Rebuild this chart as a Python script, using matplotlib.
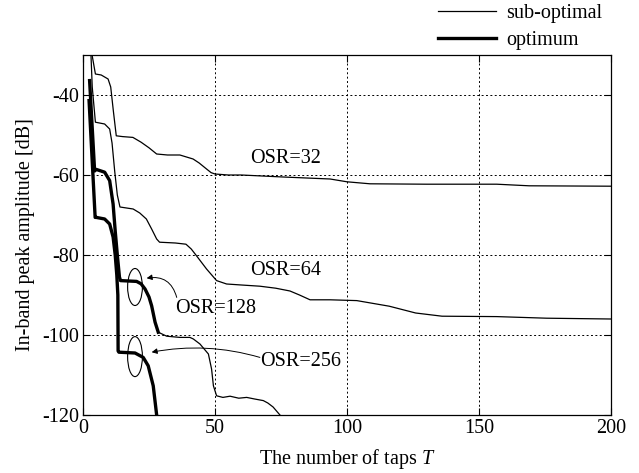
import matplotlib
matplotlib.use("Agg")
import matplotlib.pyplot as plt
from matplotlib.patches import Ellipse
from matplotlib.lines import Line2D

plt.rcParams['font.family'] = ['Liberation Serif', 'DejaVu Serif']
plt.rcParams['mathtext.fontset'] = 'custom'
plt.rcParams['mathtext.it'] = 'Liberation Serif:italic'
plt.rcParams['mathtext.rm'] = 'Liberation Serif'
plt.rcParams['axes.unicode_minus'] = False

FS = 14.5

# ---- data ----
t_osr32 = [2.9, 4.7, 6.9, 9.5, 10.5, 11.5, 12.6, 15, 18.9, 22, 25, 27.9, 32, 36.7, 41.7,
           44, 46.8, 48.5, 50, 55, 60, 75.8, 93.6, 100, 108.7, 130, 156.7, 169, 200]
y_osr32 = [-28, -34.75, -35, -36, -38, -44, -50.2, -50.4, -50.6, -51.8, -53.2, -54.75, -55,
           -55, -56, -57, -58.5, -59.4, -59.75, -60, -60, -60.5, -61, -61.7, -62.2, -62.3,
           -62.3, -62.7, -62.8]

t_osr64 = [2.9, 3.5, 4.7, 8.2, 10.1, 11, 12, 13, 14, 19, 21.5, 24, 26, 27.9, 29, 35, 39, 41,
           43, 46.8, 50.6, 54.4, 60, 67, 73, 78.4, 82, 86, 93.6, 103.7, 116, 126, 136,
           156.7, 175.6, 200]
y_osr64 = [-28, -38, -46.8, -47.25, -48.5, -52, -59, -65, -68, -68.5, -69.5, -71, -73.5,
           -76, -76.8, -77, -77.3, -78.5, -80.2, -83.5, -86.4, -87.25, -87.5, -87.8, -88.3,
           -89, -90, -91.2, -91.2, -91.4, -92.8, -94.5, -95.3, -95.4, -95.8, -96]

t_osr128_sub = [28.5, 31.7, 36.7, 40.5, 41.8, 44.3, 47.5, 48.7, 49.4, 50.6, 53, 55.7, 59,
                62, 65, 68.3, 70, 72, 74.6]
y_osr128_sub = [-99.3, -100.3, -100.6, -100.6, -101, -102.25, -104.75, -108.5, -112.7,
                -115.2, -115.6, -115.3, -115.8, -115.6, -116, -116.4, -117, -118, -120]

t_osr128_opt = [2.5, 4.4, 5.0, 8.2, 10.1, 11.4, 12.2, 13.0, 13.8, 14.2, 20.3, 22, 23.5, 25,
                26, 27.3, 28.5]
y_osr128_opt = [-36.4, -59, -58.6, -59.3, -61.4, -67.25, -74, -80, -85.5, -86.4, -86.6,
                -87.2, -88.5, -90.5, -92.7, -96.8, -99.3]

t_osr256_opt = [2.3, 4.6, 5.0, 8.2, 10.1, 11.4, 12.2, 12.8, 13.2, 13.3, 13.6, 19.7, 22.8,
                24.7, 26.6, 27.9]
y_osr256_opt = [-41.4, -70.6, -70.6, -71, -72.25, -75.5, -80, -85, -90, -104, -104.3,
                -104.5, -105.6, -107.7, -112.7, -120]

xticks = [0, 50, 100, 150, 200]
yticks = [-120, -100, -80, -60, -40]

# ---- figure ----
fig = plt.figure(figsize=(6.39, 4.73), dpi=100)
ax = fig.add_axes([83/639, 1-415/473, (611-83)/639, (415-55)/473])

thin = dict(color='black', lw=0.9)
thick = dict(color='black', lw=2.4)
ax.plot(t_osr32, y_osr32, **thin)
ax.plot(t_osr64, y_osr64, **thin)
ax.plot(t_osr128_sub, y_osr128_sub, **thin)
ax.plot(t_osr128_opt, y_osr128_opt, **thick)
ax.plot(t_osr256_opt, y_osr256_opt, **thick)

ax.set_xlim(0, 200)
ax.set_ylim(-120, -30)
ax.set_xticks(xticks)
ax.set_yticks(yticks)
ax.set_xticklabels([str(v) for v in xticks])
ax.set_yticklabels([str(v) for v in yticks])
ax.tick_params(direction='in', length=5, width=0.8, labelsize=FS, top=True, right=True,
               pad=3)
for s in ax.spines.values():
    s.set_linewidth(0.9)
ax.grid(True, color='black', linestyle=(0, (2, 2.5)), linewidth=0.7)

ax.set_xlabel('The number of taps $T$', fontsize=FS, labelpad=6)
ax.set_ylabel('In-band peak amplitude [dB]', fontsize=FS, labelpad=5)

# annotations
ax.text(76.7, -55.75, 'OSR=32', fontsize=FS, ha='center', va='center')
ax.text(76.7, -83.9, 'OSR=64', fontsize=FS, ha='center', va='center')
ax.text(50.4, -93.25, 'OSR=128', fontsize=FS, ha='center', va='center')
ax.text(82.6, -106.6, 'OSR=256', fontsize=FS, ha='center', va='center')

ax.add_patch(Ellipse((19.7, -88), 5.6, 9.25, fill=False, lw=0.8, color='black'))
ax.add_patch(Ellipse((19.7, -105.4), 5.6, 10, fill=False, lw=0.8, color='black'))

ax.annotate('', xy=(24.1, -85.8), xytext=(35.5, -90.6),
            arrowprops=dict(arrowstyle='-|>', color='black', lw=0.7,
                            connectionstyle='arc3,rad=0.45', mutation_scale=8,
                            shrinkA=0, shrinkB=0))
ax.annotate('', xy=(26, -104.3), xytext=(67, -105.6),
            arrowprops=dict(arrowstyle='-|>', color='black', lw=0.7,
                            connectionstyle='arc3,rad=0.12', mutation_scale=8,
                            shrinkA=0, shrinkB=0))

handles = [Line2D([], [], color='black', lw=0.9), Line2D([], [], color='black', lw=2.4)]
fig.legend(handles, ['sub-optimal', 'optimum'], loc='upper left',
           bbox_to_anchor=(438/639, 1-4/473), frameon=False, fontsize=FS,
           handlelength=2.9, handletextpad=0.5, borderpad=0, borderaxespad=0,
           labelspacing=0.38)

fig.savefig('out.png', dpi=100)
